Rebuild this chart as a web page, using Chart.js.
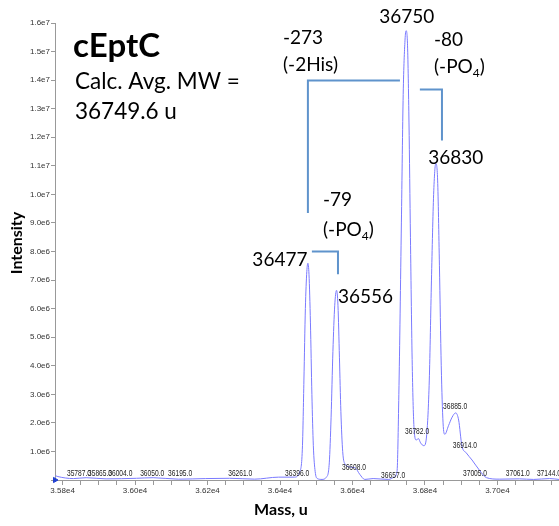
<!DOCTYPE html>
<html>
<head>
<meta charset="utf-8">
<script src="https://cdn.jsdelivr.net/npm/chart.js@4/dist/chart.umd.min.js"></script>
<style>
  body { margin: 0; background: #fff; overflow: hidden; }
  #wrap { width: 559px; height: 526px; position: relative; }
</style>
</head>
<body>
<div id="wrap"><canvas id="chart"></canvas></div>
<script>
// deconvoluted spectrum, mass in u, intensity in millions
let masses = [35780, 35787, 35830, 35865, 35920, 36004, 36050, 36120, 36195, 36261, 36330, 36396,
  36440, 36455, 36462, 36466, 36470, 36474, 36477, 36480, 36484, 36488, 36492, 36497, 36503,
  36516, 36528, 36536, 36541, 36546, 36551, 36556, 36560, 36564, 36568, 36573, 36580, 36595,
  36608, 36620, 36634, 36657, 36700, 36715, 36723, 36728, 36735, 36740, 36745, 36748, 36752,
  36756, 36760, 36765, 36770, 36776, 36782, 36788, 36797, 36805, 36812, 36818, 36824, 36830,
  36835, 36840, 36845, 36850, 36855, 36865, 36875, 36885, 36893, 36902, 36914, 36930, 36950,
  36970, 37005, 37061, 37100, 37144, 37170];
let intensity = [0.15, 0.12, 0.05, 0.08, 0.04, 0.06, 0.08, 0.03, 0.05, 0.06, 0.03, 0.1,
  0.1, 0.3, 1.2, 3.5, 6.0, 7.3, 7.59, 7.2, 5.5, 3.0, 1.2, 0.3, 0.05,
  0.02, 0.1, 0.6, 2.2, 4.5, 6.1, 6.64, 6.1, 4.3, 2.4, 1.0, 0.55, 0.45,
  0.42, 0.2, 0.02, 0.05, 0.02, 0.1, 0.3, 3.0, 9.0, 13.5, 15.4, 15.73, 15.2,
  12.5, 8.5, 4.0, 1.8, 1.4, 1.45, 1.3, 1.2, 1.6, 3.5, 7.0, 10.0, 11.08,
  10.5, 7.5, 4.0, 2.0, 1.6, 1.9, 2.2, 2.35, 2.1, 1.2, 0.95, 0.7, 0.35,
  0.08, 0.03, 0.04, 0.02, 0.05, 0.02];

// small centroid labels placed by the software (text, left edge mass, intensity)
let centroidText = ["35787.0", "35865.0", "36004.0", "36050.0", "36195.0", "36261.0", "36396.0",
  "36608.0", "36657.0", "36782.0", "36885.0", "36914.0", "37005.0", "37061.0", "37144.0"];
let centroidMass = [35812, 35870, 35926, 36014, 36091, 36257, 36414,
  36571, 36679, 36745, 36850, 36877, 36905, 37023, 37109];
let centroidInt = [0.24, 0.24, 0.24, 0.24, 0.24, 0.24, 0.24,
  0.45, 0.17, 1.68, 2.59, 1.19, 0.21, 0.21, 0.21];

// big peak labels
let peakText = ["36750", "36830", "36477", "36556"];
let peakMass = [36750, 36830, 36477, 36556];
let peakInt = [15.73, 11.08, 7.59, 6.64];

// mass-loss brackets: polyline points [mass, intensity]
let brackets = [
  [[36477, 9.35], [36477, 13.99], [36731, 13.99]],
  [[36786, 13.67], [36847, 13.67], [36847, 11.89]],
  [[36488, 8.0], [36560, 8.0], [36560, 7.2]]
];

let xMin = 35779, xMax = 37170;
let yMin = 0, yMax = 16;

let calibri = "Lato, 'Open Sans', sans-serif";
let tickFont = "'Liberation Sans', Arial, sans-serif";
let traceColor = "#7a7aff";
let bracketColor = "#5f93cc";

let points = masses.map((m, i) => ({ x: m, y: intensity[i] }));

function sciLabel(v, digits) {
  return v.toExponential(digits).replace("+", "");
}

let textPlugin = {
  id: "spectrumText",
  afterDatasetsDraw(chart) {
    let ctx = chart.ctx;
    let xs = chart.scales.x, ys = chart.scales.y;
    ctx.save();

    // brackets
    ctx.strokeStyle = bracketColor;
    ctx.lineWidth = 2;
    brackets.forEach(b => {
      ctx.beginPath();
      b.forEach((p, i) => {
        let px = xs.getPixelForValue(p[0]), py = ys.getPixelForValue(p[1]);
        if (i === 0) ctx.moveTo(px, py); else ctx.lineTo(px, py);
      });
      ctx.stroke();
    });

    // centroid labels, condensed like the original software font
    ctx.fillStyle = "#222";
    ctx.font = "9px " + tickFont;
    ctx.textBaseline = "middle";
    ctx.textAlign = "left";
    centroidText.forEach((t, i) => {
      let px = xs.getPixelForValue(centroidMass[i]), py = ys.getPixelForValue(centroidInt[i]);
      ctx.save();
      ctx.translate(px, py);
      ctx.scale(0.74, 1);
      ctx.fillText(t, 0, 0);
      ctx.restore();
    });

    // peak mass labels
    ctx.fillStyle = "#000";
    ctx.font = "19px " + calibri;
    let offs = [[0, -14], [20, -6], [-28, -3], [29, 7]];
    peakText.forEach((t, i) => {
      ctx.textAlign = "center";
      ctx.fillText(t, xs.getPixelForValue(peakMass[i]) + offs[i][0], ys.getPixelForValue(peakInt[i]) + offs[i][1]);
    });

    // mass-loss annotations
    ctx.textAlign = "left";
    ctx.fillText("-273", 283, 38);
    ctx.fillText("(-2His)", 283, 65);
    ctx.fillText("-80", 434, 40);
    ctx.fillText("(-PO", 434, 67);
    ctx.fillText("-79", 323, 200);
    ctx.fillText("(-PO", 323, 230);
    let w = ctx.measureText("(-PO").width;
    ctx.font = "12px " + calibri;
    ctx.fillText("4", 434 + w, 73);
    ctx.fillText("4", 323 + w, 236);
    let w4 = ctx.measureText("4").width;
    ctx.font = "19px " + calibri;
    ctx.fillText(")", 434 + w + w4, 67);
    ctx.fillText(")", 323 + w + w4, 230);

    // sample header
    ctx.font = "bold 33px " + calibri;
    ctx.fillText("cEptC", 73, 46);
    ctx.font = "22.5px " + calibri;
    ctx.fillText("Calc. Avg. MW =", 75, 82);
    ctx.fillText("36749.6 u", 75, 112);

    // axis titles
    ctx.font = "bold 16px " + calibri;
    ctx.textAlign = "center";
    ctx.fillText("Mass, u", 281, 510);
    ctx.translate(17, 243);
    ctx.rotate(-Math.PI / 2);
    ctx.fillText("Intensity", 0, 0);
    ctx.restore();
  }
};

new Chart("chart", {
  type: "scatter",
  data: {
    datasets: [{
      data: points,
      showLine: true,
      borderColor: traceColor,
      borderWidth: 1,
      pointRadius: 0,
      cubicInterpolationMode: "monotone",
      fill: false
    }, {
      data: [{ x: xMin, y: 0 }],
      pointStyle: "triangle",
      rotation: 90,
      pointRadius: 3,
      backgroundColor: "#1f3fd0",
      borderColor: "#1f3fd0",
      clip: false
    }]
  },
  options: {
    animation: false,
    responsive: true,
    maintainAspectRatio: false,
    layout: { autoPadding: false, padding: { top: 23, right: 0, left: 0, bottom: 0 } },
    plugins: { legend: { display: false }, tooltip: { enabled: false } },
    scales: {
      x: {
        type: "linear",
        min: xMin,
        max: xMax,
        afterFit(s) { s.height = 46; s.paddingLeft = 0; s.paddingRight = 0; },
        afterBuildTicks(s) { s.ticks = s.ticks.filter(t => t.value % 50 === 0); },
        border: { color: "#999" },
        grid: { drawOnChartArea: false, tickLength: 5, color: "#999" },
        ticks: {
          stepSize: 50,
          includeBounds: false,
          autoSkip: false,
          maxRotation: 0,
          padding: 1,
          color: "#333",
          font: { family: tickFont, size: 8 },
          callback: v => (v % 200 === 0 ? sciLabel(v, 2) : "")
        }
      },
      y: {
        min: yMin,
        max: yMax,
        afterFit(s) { s.width = 55; s.paddingTop = 0; s.paddingBottom = 0; },
        border: { color: "#999" },
        grid: { drawOnChartArea: false, tickLength: 4, color: "#999" },
        ticks: {
          stepSize: 1,
          padding: 1,
          color: "#333",
          font: { family: tickFont, size: 8 },
          callback: v => (v === 0 ? "" : sciLabel(v * 1e6, 1))
        }
      }
    }
  },
  plugins: [textPlugin]
});
</script>
</body>
</html>
